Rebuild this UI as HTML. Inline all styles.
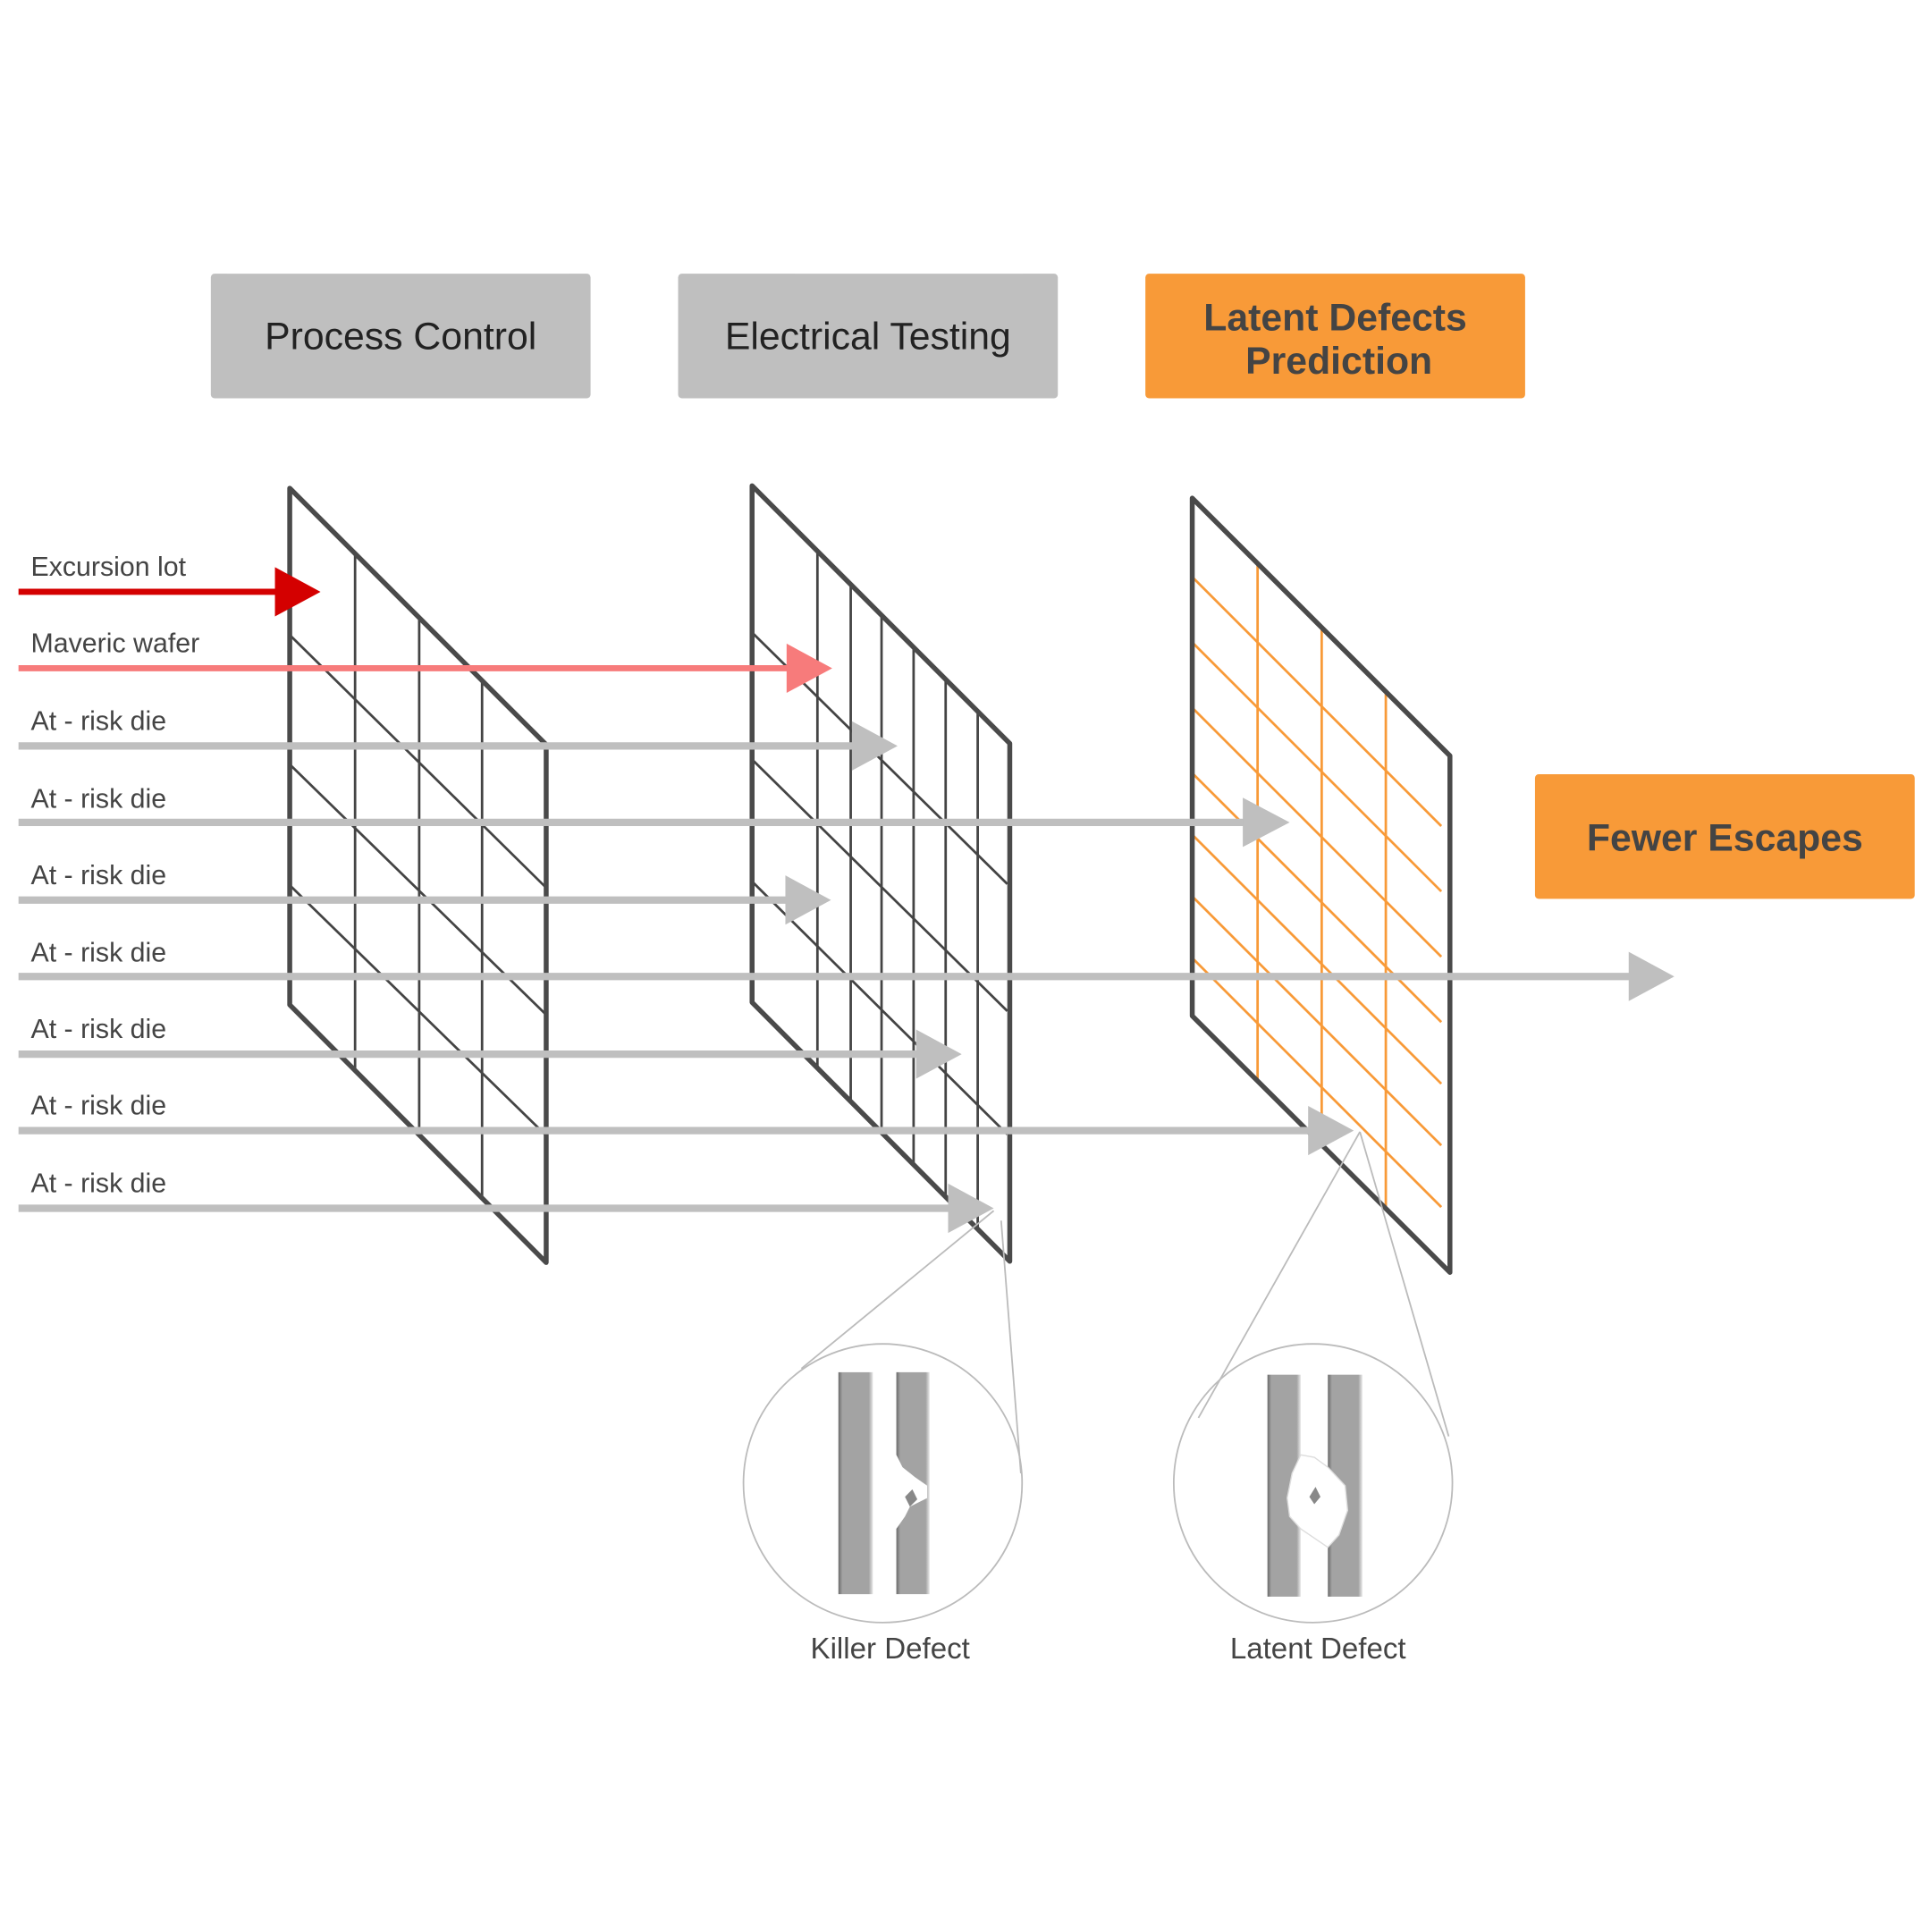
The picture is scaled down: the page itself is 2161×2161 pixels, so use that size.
<!DOCTYPE html>
<html><head><meta charset="utf-8"><style>
html,body{margin:0;padding:0;background:#fff;}
svg{display:block;}
text{font-family:"Liberation Sans",sans-serif;}
</style></head><body>
<svg width="2161" height="2161" viewBox="0 0 1567 1567" xmlns="http://www.w3.org/2000/svg">
<defs>
<clipPath id="p3"><polygon points="967,404 1176,613 1176,1032 967,824"/></clipPath>
<linearGradient id="bar" x1="0" x2="1" y1="0" y2="0">
<stop offset="0" stop-color="#6a6a6a"/><stop offset="0.12" stop-color="#a3a3a3"/><stop offset="0.88" stop-color="#a3a3a3"/><stop offset="1" stop-color="#e8e8e8"/>
</linearGradient>
</defs>
<rect x="171" y="222" width="308" height="101" rx="3" fill="#bfbfbf"/>
<text x="325" y="283" text-anchor="middle" font-size="31" fill="#222">Process Control</text>
<rect x="550" y="222" width="308" height="101" rx="3" fill="#bfbfbf"/>
<text x="704" y="283" text-anchor="middle" font-size="31" fill="#222">Electrical Testing</text>
<rect x="929" y="222" width="308" height="101" rx="3" fill="#f89a38"/>
<text x="1083" y="268" text-anchor="middle" font-size="31" font-weight="bold" fill="#444">Latent Defects</text>
<text x="1086" y="303" text-anchor="middle" font-size="31" font-weight="bold" fill="#444">Prediction</text>
<rect x="1245" y="628" width="308" height="101" rx="3" fill="#f89a38"/>
<text x="1399" y="690" text-anchor="middle" font-size="31" font-weight="bold" fill="#444">Fewer Escapes</text>

<g stroke="#444" stroke-width="2" fill="none">
<line x1="288" y1="449" x2="288" y2="868"/>
<line x1="340" y1="501" x2="340" y2="920"/>
<line x1="391" y1="552" x2="391" y2="971"/>
<line x1="235" y1="515" x2="443" y2="720"/>
<line x1="235" y1="620" x2="443" y2="823"/>
<line x1="235" y1="718" x2="443" y2="921"/>
</g>
<polygon points="235,396 443,604 443,1024 235,815" fill="none" stroke="#4a4a4a" stroke-width="4" stroke-linejoin="round"/>

<g stroke="#444" stroke-width="2" fill="none">
<line x1="663" y1="447" x2="663" y2="866"/>
<line x1="690" y1="474" x2="690" y2="893"/>
<line x1="715" y1="499" x2="715" y2="918"/>
<line x1="741" y1="525" x2="741" y2="944"/>
<line x1="767" y1="551" x2="767" y2="970"/>
<line x1="793" y1="577" x2="793" y2="996"/>
<line x1="610" y1="513" x2="817" y2="717"/>
<line x1="610" y1="616" x2="817" y2="820"/>
<line x1="610" y1="715" x2="817" y2="920"/>
</g>
<polygon points="610,394 819,603 819,1023 610,813" fill="none" stroke="#4a4a4a" stroke-width="4" stroke-linejoin="round"/>

<g stroke="#f89a38" stroke-width="2" fill="none" clip-path="url(#p3)">
<line x1="1020" y1="455" x2="1020" y2="880"/>
<line x1="1072" y1="507" x2="1072" y2="932"/>
<line x1="1124" y1="559" x2="1124" y2="984"/>
<line x1="967" y1="468" x2="1169" y2="670"/>
<line x1="967" y1="521" x2="1169" y2="723"/>
<line x1="967" y1="574" x2="1169" y2="776"/>
<line x1="967" y1="627" x2="1169" y2="829"/>
<line x1="967" y1="677" x2="1169" y2="879"/>
<line x1="967" y1="727" x2="1169" y2="929"/>
<line x1="967" y1="777" x2="1169" y2="979"/>
</g>
<polygon points="967,404 1176,613 1176,1032 967,824" fill="none" stroke="#4a4a4a" stroke-width="4" stroke-linejoin="round"/>

<line x1="15" y1="480" x2="226" y2="480" stroke="#d40000" stroke-width="5"/>
<polygon points="223,460 260,480 223,500" fill="#d40000"/>
<line x1="15" y1="542" x2="640" y2="542" stroke="#f77b7b" stroke-width="5"/>
<polygon points="638,522 675,542 638,562" fill="#f77b7b"/>
<g fill="#bfbfbf" stroke="#bfbfbf">
<line x1="15" y1="605" x2="693" y2="605" stroke-width="6"/><polygon stroke="none" points="691,585 728,605 691,625"/>
<line x1="15" y1="667" x2="1010" y2="667" stroke-width="6"/><polygon stroke="none" points="1008,647 1046,667 1008,687"/>
<line x1="15" y1="730" x2="640" y2="730" stroke-width="6"/><polygon stroke="none" points="637,710 674,730 637,750"/>
<line x1="15" y1="792" x2="1323" y2="792" stroke-width="6"/><polygon stroke="none" points="1321,772 1358,792 1321,812"/>
<line x1="15" y1="855" x2="745" y2="855" stroke-width="6"/><polygon stroke="none" points="743,835 780,855 743,875"/>
<line x1="15" y1="917" x2="1063" y2="917" stroke-width="6"/><polygon stroke="none" points="1061,897 1098,917 1061,937"/>
<line x1="15" y1="980" x2="771" y2="980" stroke-width="6"/><polygon stroke="none" points="769,960 806,980 769,1000"/>
</g>
<g font-size="22" fill="#444">
<text x="25" y="467">Excursion lot</text>
<text x="25" y="529">Maveric wafer</text>
<text x="25" y="592">At - risk die</text>
<text x="25" y="655">At - risk die</text>
<text x="25" y="717">At - risk die</text>
<text x="25" y="780">At - risk die</text>
<text x="25" y="842">At - risk die</text>
<text x="25" y="904">At - risk die</text>
<text x="25" y="967">At - risk die</text>
</g>

<g stroke="#bbb" stroke-width="1.3" fill="none">
<line x1="806" y1="982" x2="650" y2="1110"/>
<line x1="812" y1="990" x2="828" y2="1195"/>
<line x1="1103" y1="918" x2="972" y2="1150"/>
<line x1="1103" y1="918" x2="1175" y2="1165"/>
<circle cx="716" cy="1203" r="113"/>
<circle cx="1065" cy="1203" r="113"/>
</g>
<rect x="680" y="1113" width="28" height="180" fill="url(#bar)"/>
<path d="M727,1113 H754 V1293 H727 V1240 L734,1230 L738,1222 L752,1215 L752,1205 L742,1198 L732,1190 L727,1180 Z" fill="url(#bar)"/>
<path d="M734,1214 L740,1208 L744,1216 L738,1222 Z" fill="#888"/>
<rect x="1028" y="1115" width="27" height="180" fill="url(#bar)"/>
<rect x="1077" y="1115" width="28" height="180" fill="url(#bar)"/>
<path d="M1055,1180 L1048,1195 L1044,1215 L1046,1230 L1055,1240 L1077,1255 L1086,1245 L1093,1225 L1091,1205 L1077,1190 L1066,1182 Z" fill="#fff" stroke="#ddd" stroke-width="1"/>
<path d="M1062,1214 L1067,1206 L1071,1214 L1066,1220 Z" fill="#888"/>
<text x="722" y="1345" text-anchor="middle" font-size="24" fill="#444">Killer Defect</text>
<text x="1069" y="1345" text-anchor="middle" font-size="24" fill="#444">Latent Defect</text>
</svg>
</body></html>
